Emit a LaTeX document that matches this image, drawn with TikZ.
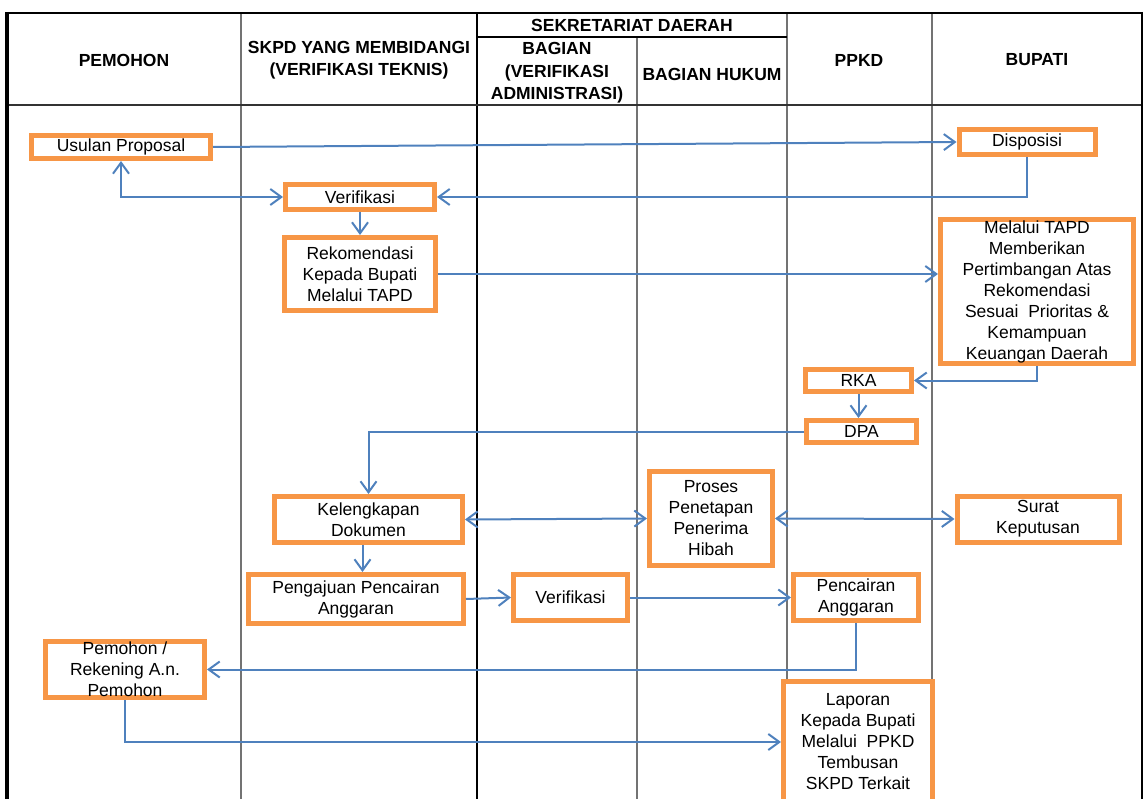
\documentclass[tikz,border=0pt]{standalone}
\usepackage{fontspec}
\setmainfont{Liberation Sans}
\usetikzlibrary{arrows.meta}

\definecolor{boxorange}{HTML}{F79646}
\definecolor{flowblue}{HTML}{4F81BD}

\begin{document}
\begin{tikzpicture}[> = {Straight Barb[length=11pt, width=16pt]}, x=1pt, y=-1pt]
    \tikzset{
      box/.style={draw=boxorange, line width=5pt, fill=white, align=center,
        inner sep=0pt, outer sep=2.5pt, font=\fontsize{17.5}{21}\selectfont},
      head/.style={align=center, font=\bfseries\fontsize{17.5}{22.5}\selectfont},
      lane/.style={draw=black!55, line width=1.3pt},
      flow/.style={draw=flowblue, line width=2pt, ->},
    }
    \clip (0,0) rectangle (1145,799);

    % swimlanes
    \foreach \x in {241,787,932}
      \draw [lane] (\x,13) -- (\x,799);
    \draw [lane] (637,37) -- (637,799);
    \draw [line width=1.2pt] (477,13) -- (477,799);
    \draw [line width=1.5pt] (477,37) -- (787,37);
    \draw [line width=1.5pt, black!80] (7,105) -- (1142,105);
    \draw [line width=2.5pt] (7,13) -- (1142,13);
    \draw [line width=3.5pt] (7,12) -- (7,799);
    \draw [line width=2pt] (1142,12) -- (1142,799);

    % header
    \node [head] (hpemohon) at (124,60) {PEMOHON};
    \node [head] (hskpd) at (359,60) {SKPD YANG MEMBIDANGI\\(VERIFIKASI TEKNIS)};
    \node [head] (hsekda) at (632,25) {SEKRETARIAT DAERAH};
    \node [head] (hbagian) at (557,73) {BAGIAN\\(VERIFIKASI\\ADMINISTRASI)};
    \node [head] (hhukum) at (712,74) {BAGIAN HUKUM};
    \node [head] (hppkd) at (859,60) {PPKD};
    \node [head] (hbupati) at (1037,60) {BUPATI};

    % process boxes
    \node [box, minimum width=179, minimum height=23] (usulan) at (121,147) {Usulan Proposal};
    \node [box, minimum width=136, minimum height=25] (dispo) at (1027,142) {Disposisi};
    \node [box, minimum width=149, minimum height=25] (verif) at (360,197) {Verifikasi};
    \node [box, minimum width=151, minimum height=73] (rekom) at (360,274)
      {Rekomendasi\\Kepada Bupati\\Melalui TAPD};
    \node [box, minimum width=193, minimum height=144] (tapd) at (1037,291.5)
      {Melalui TAPD\\Memberikan\\Pertimbangan Atas\\Rekomendasi\\Sesuai~ Prioritas \&\\Kemampuan\\Keuangan Daerah};
    \node [box, minimum width=106, minimum height=22] (rka) at (858.5,380.5) {RKA};
    \node [box, minimum width=110, minimum height=22] (dpa) at (861.5,431.5) {DPA};
    \node [box, minimum width=188, minimum height=46] (lengkap) at (368.5,519.5)
      {Kelengkapan\\Dokumen};
    \node [box, minimum width=123, minimum height=94] (proses) at (711,518.5)
      {Proses\\Penetapan\\Penerima\\Hibah};
    \node [box, minimum width=162, minimum height=46] (surat) at (1038,519)
      {Surat\\Keputusan};
    \node [box, minimum width=215, minimum height=49] (ajuan) at (356,599)
      {Pengajuan Pencairan\\Anggaran};
    \node [box, minimum width=114, minimum height=46] (verifb) at (570.5,597.5) {Verifikasi};
    \node [box, minimum width=125, minimum height=46] (cair) at (856,597.5)
      {Pencairan\\Anggaran};
    \node [box, minimum width=159, minimum height=56] (pemohon) at (125,669.5)
      {Pemohon /\\Rekening A.n.\\Pemohon};
    \node [box, minimum width=149, minimum height=121] (laporan) at (858,742)
      {Laporan\\Kepada Bupati\\Melalui~ PPKD\\Tembusan\\SKPD Terkait};

    % flows
    \draw [flow] (usulan.east) -- (dispo.west);
    \draw [flow] (dispo.south) |- (verif.east);
    \draw [flow, <->] (usulan.south) |- (verif.west);
    \draw [flow] (verif) -- (rekom);
    \draw [flow] (rekom.east) -- (rekom.east -| tapd.west);
    \draw [flow] (tapd.south) |- (rka.east);
    \draw [flow] (rka.south) -- (rka.south |- dpa.north);
    \draw [flow] (dpa.west) -| (lengkap.north);
    \draw [flow, <->] (lengkap.east) -- (proses.west);
    \draw [flow, <->] (proses.east) -- (surat.west);
    \draw [flow] ([xshift=-6pt]lengkap.south) -- ([xshift=-6pt]lengkap.south |- ajuan.north);
    \draw [flow] (ajuan.east) -- (verifb.west);
    \draw [flow] (verifb.east) -- (cair.west);
    \draw [flow] (cair.south) |- (pemohon.east);
    \draw [flow] (pemohon.south) |- (laporan.west);

  \end{tikzpicture}
\end{document}
